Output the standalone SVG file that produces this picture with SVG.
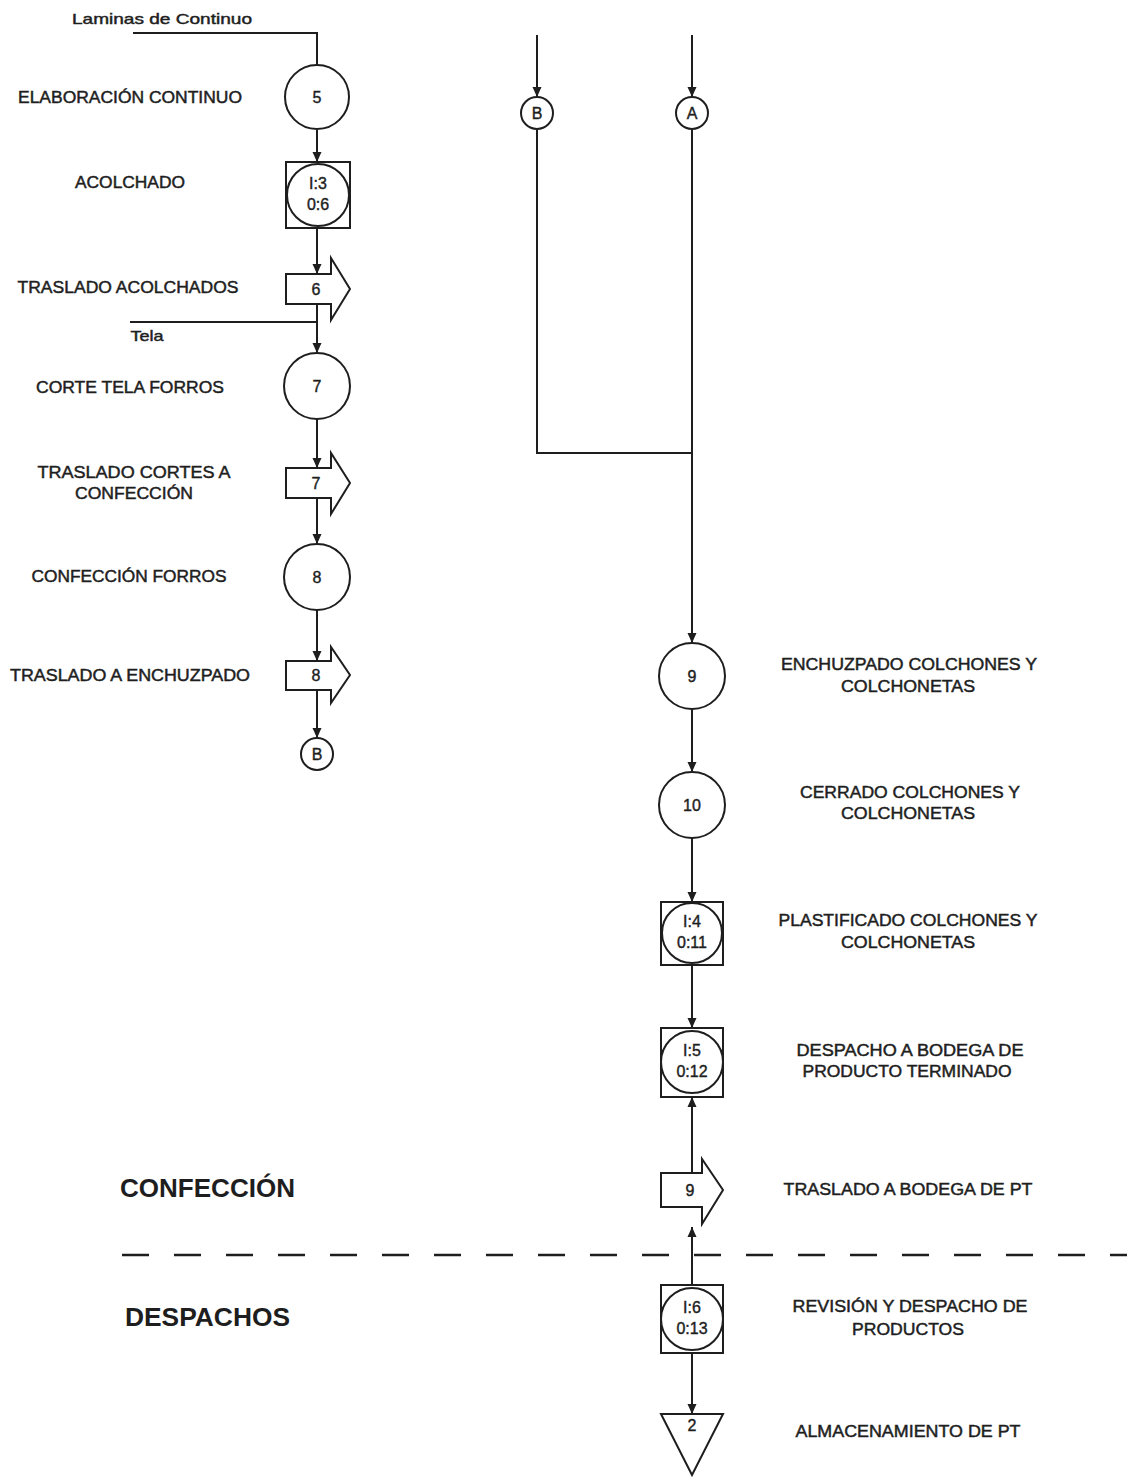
<svg xmlns="http://www.w3.org/2000/svg" width="1127" height="1479" viewBox="0 0 1127 1479">
<defs>
<style>
.ln{fill:none;stroke:#1e1e1e;stroke-width:2}
.nd{fill:#fff;stroke:#1e1e1e;stroke-width:2}
.t{font-family:"Liberation Sans",Arial,sans-serif;font-size:16px;fill:#1e1e1e;stroke:#1e1e1e;stroke-width:0.45;text-anchor:middle}
.n{font-family:"Liberation Sans",Arial,sans-serif;font-size:16px;fill:#1e1e1e;stroke:#1e1e1e;stroke-width:0.4;text-anchor:middle}
.h{font-family:"Liberation Sans",Arial,sans-serif;font-size:25px;font-weight:bold;fill:#1e1e1e}
</style>
<marker id="ar" markerUnits="userSpaceOnUse" markerWidth="10" markerHeight="10" refX="10" refY="5" orient="auto">
<path d="M0,0.5 L10,5 L0,9.5 z" fill="#1e1e1e"/>
</marker>
</defs>
<rect width="1127" height="1479" fill="#fff"/>

<g id="connectors">
<polyline class="ln" points="133,33 317,33 317,65"/>
<line class="ln" x1="317" y1="130" x2="317" y2="162" marker-end="url(#ar)"/>
<line class="ln" x1="317" y1="228" x2="317" y2="274" marker-end="url(#ar)"/>
<line class="ln" x1="317" y1="304" x2="317" y2="353" marker-end="url(#ar)"/>
<line class="ln" x1="130" y1="322" x2="317" y2="322"/>
<line class="ln" x1="317" y1="419" x2="317" y2="468" marker-end="url(#ar)"/>
<line class="ln" x1="317" y1="498" x2="317" y2="544" marker-end="url(#ar)"/>
<line class="ln" x1="317" y1="610" x2="317" y2="661" marker-end="url(#ar)"/>
<line class="ln" x1="317" y1="690" x2="317" y2="738" marker-end="url(#ar)"/>
<line class="ln" x1="537" y1="35" x2="537" y2="97" marker-end="url(#ar)"/>
<line class="ln" x1="692" y1="35" x2="692" y2="97" marker-end="url(#ar)"/>
<polyline class="ln" points="537,130 537,453 692,453"/>
<line class="ln" x1="692" y1="130" x2="692" y2="643" marker-end="url(#ar)"/>
<line class="ln" x1="692" y1="709" x2="692" y2="772" marker-end="url(#ar)"/>
<line class="ln" x1="692" y1="838" x2="692" y2="902" marker-end="url(#ar)"/>
<line class="ln" x1="692" y1="965" x2="692" y2="1028" marker-end="url(#ar)"/>
<line class="ln" x1="692" y1="1173" x2="692" y2="1097" marker-end="url(#ar)"/>
<line class="ln" x1="692" y1="1285" x2="692" y2="1227" marker-end="url(#ar)"/>
<line class="ln" x1="692" y1="1353" x2="692" y2="1414" marker-end="url(#ar)"/>
</g>

<line id="divider" x1="122" y1="1255" x2="1127" y2="1255" stroke="#1e1e1e" stroke-width="2.5" stroke-dasharray="27 25"/>

<g id="n-laminas"><text class="t" x="162" y="24" style="font-size:15px" textLength="180" lengthAdjust="spacingAndGlyphs">Laminas de Continuo</text></g>
<g id="n-tela"><text class="t" x="147" y="341" style="font-size:15px" textLength="33" lengthAdjust="spacingAndGlyphs">Tela</text></g>

<g id="op5">
<circle class="nd" cx="317" cy="97" r="32"/>
<text class="n" x="317" y="103">5</text>
<text class="t" x="130" y="103" textLength="224" lengthAdjust="spacingAndGlyphs">ELABORACIÓN CONTINUO</text>
</g>

<g id="comb3">
<rect class="nd" x="286" y="162" width="64" height="66"/>
<circle class="nd" cx="318" cy="195" r="31"/>
<text class="n" x="318" y="189">I:3</text>
<text class="n" x="318" y="210">0:6</text>
<text class="t" x="130" y="188" textLength="110" lengthAdjust="spacingAndGlyphs">ACOLCHADO</text>
</g>

<g id="tr6">
<path class="nd" d="M286,274 H331 V258 L350,289 L331,320 V304 H286 Z"/>
<text class="n" x="316" y="295">6</text>
<text class="t" x="128" y="293" textLength="221" lengthAdjust="spacingAndGlyphs">TRASLADO ACOLCHADOS</text>
</g>

<g id="op7">
<circle class="nd" cx="317" cy="386" r="33"/>
<text class="n" x="317" y="392">7</text>
<text class="t" x="130" y="393" textLength="188" lengthAdjust="spacingAndGlyphs">CORTE TELA FORROS</text>
</g>

<g id="tr7">
<path class="nd" d="M286,468 H331 V453 L350,483 L331,514 V498 H286 Z"/>
<text class="n" x="316" y="489">7</text>
<text class="t" x="134" y="478" textLength="193" lengthAdjust="spacingAndGlyphs">TRASLADO CORTES A</text>
<text class="t" x="134" y="499" textLength="118" lengthAdjust="spacingAndGlyphs">CONFECCIÓN</text>
</g>

<g id="op8">
<circle class="nd" cx="317" cy="577" r="33"/>
<text class="n" x="317" y="583">8</text>
<text class="t" x="129" y="582" textLength="195" lengthAdjust="spacingAndGlyphs">CONFECCIÓN FORROS</text>
</g>

<g id="tr8">
<path class="nd" d="M286,661 H331 V647 L350,675 L331,703 V690 H286 Z"/>
<text class="n" x="316" y="681">8</text>
<text class="t" x="130" y="681" textLength="240" lengthAdjust="spacingAndGlyphs">TRASLADO A ENCHUZPADO</text>
</g>

<g id="conB-out">
<circle class="nd" cx="317" cy="754" r="16"/>
<text class="n" x="317" y="760">B</text>
</g>

<g id="conB-in">
<circle class="nd" cx="537" cy="113" r="16"/>
<text class="n" x="537" y="119">B</text>
</g>

<g id="conA-in">
<circle class="nd" cx="692" cy="113" r="16"/>
<text class="n" x="692" y="119">A</text>
</g>

<g id="op9">
<circle class="nd" cx="692" cy="676" r="33"/>
<text class="n" x="692" y="682">9</text>
<text class="t" x="909" y="670" textLength="256" lengthAdjust="spacingAndGlyphs">ENCHUZPADO COLCHONES Y</text>
<text class="t" x="908" y="692" textLength="134" lengthAdjust="spacingAndGlyphs">COLCHONETAS</text>
</g>

<g id="op10">
<circle class="nd" cx="692" cy="805" r="33"/>
<text class="n" x="692" y="811">10</text>
<text class="t" x="910" y="798" textLength="220" lengthAdjust="spacingAndGlyphs">CERRADO COLCHONES Y</text>
<text class="t" x="908" y="819" textLength="134" lengthAdjust="spacingAndGlyphs">COLCHONETAS</text>
</g>

<g id="comb4">
<rect class="nd" x="661" y="902" width="62" height="63"/>
<circle class="nd" cx="692" cy="933" r="30"/>
<text class="n" x="692" y="927">I:4</text>
<text class="n" x="692" y="948">0:11</text>
<text class="t" x="908" y="926" textLength="259" lengthAdjust="spacingAndGlyphs">PLASTIFICADO COLCHONES Y</text>
<text class="t" x="908" y="948" textLength="134" lengthAdjust="spacingAndGlyphs">COLCHONETAS</text>
</g>

<g id="comb5">
<rect class="nd" x="661" y="1028" width="62" height="69"/>
<circle class="nd" cx="692" cy="1062" r="31"/>
<text class="n" x="692" y="1056">I:5</text>
<text class="n" x="692" y="1077">0:12</text>
<text class="t" x="910" y="1056" textLength="227" lengthAdjust="spacingAndGlyphs">DESPACHO A BODEGA DE</text>
<text class="t" x="907" y="1077" textLength="209" lengthAdjust="spacingAndGlyphs">PRODUCTO TERMINADO</text>
</g>

<g id="tr9">
<path class="nd" d="M661,1173 H702 V1159 L723,1190 L702,1224 V1207 H661 Z"/>
<text class="n" x="690" y="1196">9</text>
<text class="t" x="908" y="1195" textLength="249" lengthAdjust="spacingAndGlyphs">TRASLADO A BODEGA DE PT</text>
</g>

<g id="comb6">
<rect class="nd" x="661" y="1285" width="62" height="68"/>
<circle class="nd" cx="692" cy="1319" r="31"/>
<text class="n" x="692" y="1313">I:6</text>
<text class="n" x="692" y="1334">0:13</text>
<text class="t" x="910" y="1312" textLength="235" lengthAdjust="spacingAndGlyphs">REVISIÓN Y DESPACHO DE</text>
<text class="t" x="908" y="1335" textLength="112" lengthAdjust="spacingAndGlyphs">PRODUCTOS</text>
</g>

<g id="st2">
<path class="nd" d="M661,1414 H723 L692,1475 Z"/>
<text class="n" x="692" y="1431">2</text>
<text class="t" x="908" y="1437" textLength="225" lengthAdjust="spacingAndGlyphs">ALMACENAMIENTO DE PT</text>
</g>

<g id="sec-confeccion"><text class="h" x="120" y="1197" textLength="175" lengthAdjust="spacingAndGlyphs">CONFECCIÓN</text></g>
<g id="sec-despachos"><text class="h" x="125" y="1326" textLength="165" lengthAdjust="spacingAndGlyphs">DESPACHOS</text></g>
</svg>
